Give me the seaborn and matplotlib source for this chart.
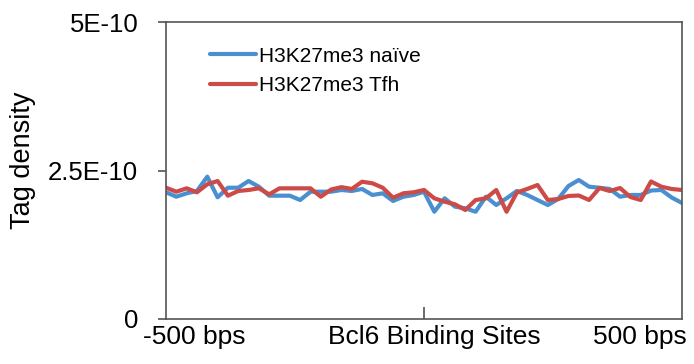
import numpy as np
import pandas as pd
import matplotlib
matplotlib.use("Agg")
import matplotlib.pyplot as plt
import seaborn as sns

# Data (tag density, units of 1E-10), 51 positions from -500 to +500 bps
positions = list(range(-500, 501, 20))
naive = [2.133, 2.059, 2.116, 2.155, 2.396, 2.049, 2.210, 2.210, 2.323, 2.227,
         2.076, 2.076, 2.076, 2.003, 2.143, 2.143, 2.143, 2.172, 2.155, 2.189,
         2.088, 2.116, 1.987, 2.059, 2.088, 2.143, 1.806, 2.032, 1.891, 1.864,
         1.806, 2.059, 1.919, 2.032, 2.155, 2.088, 2.003, 1.919, 2.020, 2.239,
         2.340, 2.227, 2.210, 2.189, 2.059, 2.088, 2.088, 2.163, 2.172, 2.045,
         1.953]
tfh = [2.210, 2.143, 2.200, 2.133, 2.268, 2.323, 2.076, 2.155, 2.172, 2.200,
       2.099, 2.200, 2.200, 2.200, 2.200, 2.059, 2.180, 2.220, 2.189, 2.311,
       2.285, 2.210, 2.042, 2.116, 2.133, 2.172, 2.032, 1.975, 1.931, 1.835,
       2.003, 2.032, 2.172, 1.806, 2.130, 2.189, 2.256, 2.003, 2.020, 2.071,
       2.079, 2.003, 2.205, 2.155, 2.205, 2.054, 2.003, 2.315, 2.227, 2.189,
       2.172]
series_names = ["H3K27me3 na\u00efve", "H3K27me3 Tfh"]
colors = ["#4A90D0", "#CC4B47"]
ytick_values = [0, 2.5e-10, 5e-10]
ytick_labels = ["0", "2.5E-10", "5E-10"]
xtick_labels = ["-500 bps", "Bcl6 Binding Sites", "500 bps"]

df = pd.DataFrame({
    "pos": positions * 2,
    "density": [v * 1e-10 for v in naive] + [v * 1e-10 for v in tfh],
    "series": [series_names[0]] * len(positions) + [series_names[1]] * len(positions),
})

sns.set_style("white")
plt.rcParams["font.family"] = ["Liberation Sans", "DejaVu Sans"]
plt.rcParams["text.color"] = "black"
plt.rcParams["axes.labelcolor"] = "black"
plt.rcParams["xtick.color"] = "black"
plt.rcParams["ytick.color"] = "black"

fig = plt.figure(figsize=(6.94, 3.64), dpi=100)
ax = fig.add_axes([166 / 694, 45 / 364, 516 / 694, 297 / 364])

sns.lineplot(data=df, x="pos", y="density", hue="series",
             palette=dict(zip(series_names, colors)), linewidth=3.0, ax=ax)

ax.set_xlim(-500, 500)
ax.set_ylim(0, 5e-10)
ax.set_yticks(ytick_values, ytick_labels)
# centre tick mark only; category labels as unmarked minor ticks
ax.set_xticks([0], [""])
ax.set_xticks([-446, 20, 418], xtick_labels, minor=True)

ax.tick_params(axis="y", direction="out", length=6, width=1.1, color="#444444",
               labelsize=18.5, pad=14, left=True)
ax.tick_params(axis="x", which="major", direction="in", length=9, width=1.1,
               color="#444444", bottom=True)
ax.tick_params(axis="x", which="minor", length=0, labelsize=19, pad=4,
               bottom=True, labelcolor="black")

for s in ax.spines.values():
    s.set_visible(True)
    s.set_color("#555555")
    s.set_linewidth(1.2)

ax.set_xlabel("")
ax.set_ylabel("Tag density", fontsize=19.5, color="black")
ax.yaxis.set_label_coords(-0.252, 0.535)

leg = ax.legend(loc="upper left", bbox_to_anchor=(0.085, 0.917), frameon=False,
                fontsize=15, handlelength=2.2, handletextpad=0.15,
                labelspacing=0.5, borderpad=0, borderaxespad=0)
for line in leg.get_lines():
    line.set_linewidth(3.0)
for t in leg.get_texts():
    t.set_color("black")

fig.savefig("out.png", dpi=100)
